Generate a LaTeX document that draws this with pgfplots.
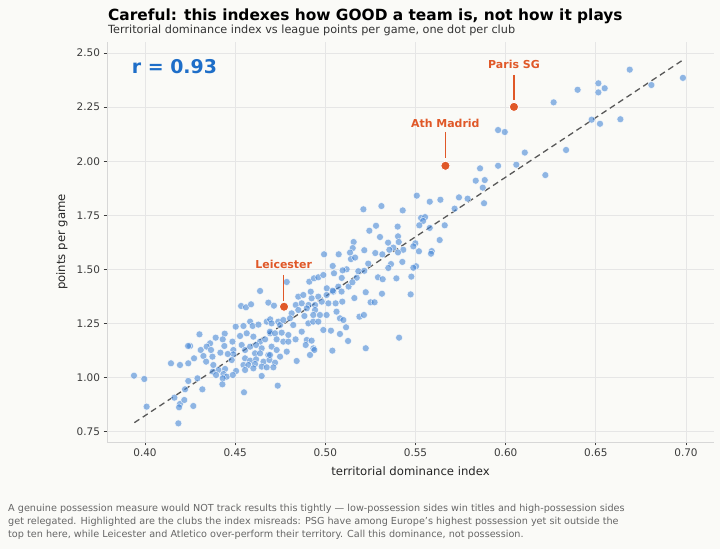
\documentclass[border=0pt]{standalone}
\usepackage{pgfplots}
\pgfplotsset{compat=1.18}
\usepackage{pgfplotstable}
\usepackage{fontspec}
\setmainfont{DejaVu Sans}
\definecolor{bgc}{RGB}{250,250,247}
\definecolor{dotblue}{RGB}{70,135,215}
\definecolor{hl}{RGB}{224,88,40}
\definecolor{rblue}{RGB}{30,110,200}
\definecolor{gridc}{RGB}{230,230,230}
\definecolor{spinec}{RGB}{215,215,215}
\definecolor{tickc}{RGB}{60,60,60}

\pgfplotstableread{
x y
0.6688 2.423
0.6983 2.385
0.6808 2.352
0.6514 2.360
0.6549 2.337
0.6514 2.318
0.6399 2.330
0.6266 2.272
0.6477 2.192
0.6523 2.173
0.6636 2.194
0.5958 2.144
0.5995 2.135
0.6106 2.040
0.6335 2.052
0.5858 1.967
0.5884 1.913
0.5873 1.878
0.5880 1.806
0.5958 1.979
0.6059 1.984
0.6220 1.936
0.5834 1.910
0.5741 1.833
0.5789 1.827
0.5638 1.822
0.5579 1.813
0.5507 1.841
0.5717 1.781
0.5211 1.778
0.5311 1.793
0.5429 1.773
0.5531 1.738
0.5553 1.742
0.5542 1.724
0.5521 1.704
0.5662 1.704
0.5579 1.692
0.5281 1.702
0.5244 1.679
0.5401 1.698
0.5403 1.653
0.5303 1.650
0.5634 1.636
0.5157 1.627
0.5348 1.624
0.5407 1.627
0.5499 1.621
0.5152 1.599
0.5488 1.607
0.5377 1.601
0.5355 1.591
0.5432 1.591
0.5216 1.589
0.5519 1.584
0.5590 1.585
0.5586 1.573
0.5137 1.578
0.5277 1.576
0.5316 1.570
0.5403 1.579
0.5142 1.548
0.5165 1.555
0.5427 1.535
0.5364 1.525
0.5238 1.527
0.5503 1.515
0.5488 1.508
0.5349 1.507
0.5118 1.501
0.5096 1.496
0.5183 1.492
0.5216 1.494
0.5292 1.464
0.5318 1.455
0.5394 1.459
0.5477 1.467
0.5091 1.461
0.5174 1.462
0.5129 1.421
0.5150 1.441
0.5224 1.395
0.5161 1.368
0.5314 1.388
0.5473 1.385
0.4638 1.4007
0.4533 1.3314
0.4560 1.3252
0.4588 1.3391
0.4684 1.3468
0.4503 1.2359
0.4546 1.2390
0.4583 1.2590
0.4597 1.2390
0.4629 1.2452
0.4675 1.2590
0.4694 1.2698
0.4302 1.2005
0.4392 1.1851
0.4442 1.2036
0.4431 1.1774
0.4361 1.1590
0.4342 1.1436
0.4485 1.1667
0.4527 1.1928
0.4564 1.2052
0.4601 1.1898
0.4638 1.1667
0.4666 1.1774
0.4694 1.2052
0.4309 1.1282
0.4366 1.1282
0.4418 1.1159
0.4440 1.1466
0.4490 1.1282
0.4536 1.1513
0.4555 1.1282
0.4583 1.1436
0.4616 1.1513
0.4647 1.1359
0.4684 1.1051
0.4490 1.1082
0.4610 1.1128
0.4638 1.1128
0.4272 1.0897
0.4324 1.1005
0.4374 1.0974
0.4459 1.1097
0.4555 1.0897
0.4583 1.0789
0.4616 1.0851
0.4657 1.0743
0.4690 1.0820
0.4481 1.0820
0.4339 1.0743
0.4379 1.0589
0.4407 1.0358
0.4444 1.0404
0.4546 1.0589
0.4573 1.0589
0.4610 1.0635
0.4647 1.0512
0.4675 1.0481
0.4250 1.1466
0.4376 1.0281
0.4394 1.0127
0.4435 1.0173
0.4453 1.0050
0.4505 1.0312
0.4555 1.0358
0.4601 1.0435
0.4291 0.9973
0.4431 0.9973
0.4487 1.0127
0.4647 1.0081
0.4318 0.9465
0.4429 0.9696
0.4549 0.9326
0.4268 0.8695
0.4715 1.3329
0.4850 1.3745
0.4878 1.3822
0.4924 1.3668
0.4961 1.3745
0.5007 1.3822
0.5044 1.3976
0.4836 1.3360
0.4869 1.3437
0.4907 1.3360
0.4943 1.3360
0.4980 1.3514
0.5017 1.3437
0.5057 1.3437
0.5094 1.3514
0.4850 1.3129
0.4897 1.3206
0.4943 1.3129
0.4970 1.2898
0.5007 1.2898
0.5062 1.3052
0.5081 1.2744
0.4884 1.2852
0.4933 1.2898
0.4813 1.2975
0.4804 1.2744
0.4702 1.2513
0.4739 1.2590
0.4749 1.2436
0.4767 1.2667
0.4822 1.2436
0.4869 1.2128
0.4906 1.2513
0.4933 1.2590
0.4961 1.2590
0.4989 1.2205
0.5031 1.2174
0.5081 1.2021
0.4693 1.2128
0.4721 1.2052
0.4758 1.2082
0.4795 1.1975
0.4730 1.1774
0.4767 1.1667
0.4795 1.1667
0.4835 1.1774
0.4897 1.1744
0.4924 1.1713
0.4891 1.1513
0.4934 1.1359
0.4939 1.1282
0.4915 1.1051
0.5039 1.1251
0.4702 1.1436
0.4730 1.1282
0.4786 1.1205
0.4693 1.1051
0.4749 1.0974
0.4721 1.0697
0.4841 1.0774
0.4712 1.0481
0.4736 0.9634
0.3939 1.0096
0.3996 0.9942
0.4009 0.8664
0.4144 1.0666
0.4194 1.0589
0.4240 1.0666
0.4163 0.9080
0.4194 0.8788
0.4189 0.8634
0.4218 0.8972
0.4185 0.7894
0.4239 1.1467
0.4240 0.9850
0.4222 0.9465
0.4786 1.4423
0.4911 1.4437
0.4937 1.4592
0.4961 1.4640
0.4989 1.4746
0.4993 1.5702
0.5074 1.5702
0.5041 1.5162
0.5048 1.4824
0.5008 1.4132
0.5041 1.4021
0.5072 1.4206
0.5090 1.3980
0.4919 1.3975
0.5251 1.3485
0.5273 1.3485
0.5100 1.2667
0.5115 1.2330
0.5126 1.1697
0.5189 1.2820
0.5214 1.2898
0.5409 1.1850
0.5224 1.1362
}\clubs

\pgfplotstableread{
x y
0.6046 2.251
0.5666 1.979
0.4771 1.328
}\highlights

\begin{document}
\begin{tikzpicture}[x=1bp,y=1bp]
\useasboundingbox (0,0) rectangle (720,549);
\fill[bgc] (0,0) rectangle (720,549);
\begin{axis}[
  at={(107bp,107bp)}, anchor=south west,
  scale only axis, width=607bp, height=400bp,
  xmin=0.37893, xmax=0.71553, ymin=0.7032, ymax=2.5508,
  axis x line*=bottom, axis y line*=left,
  axis line style={draw=spinec, line width=0.8bp, -},
  xtick={0.40,0.45,...,0.71}, ytick={0.75,1.00,...,2.51},
  tick align=outside, major tick length=3.5bp,
  tick style={draw=tickc, line width=0.8bp},
  grid=major, major grid style={draw=gridc, line width=0.8bp},
  /pgf/number format/assume math mode=true,
  xticklabel style={/pgf/number format/fixed, /pgf/number format/precision=2, /pgf/number format/fixed zerofill},
  yticklabel style={/pgf/number format/fixed, /pgf/number format/precision=2, /pgf/number format/fixed zerofill},
  tick label style={font=\fontsize{10.5}{12}\selectfont, text=tickc},
  clip=false,
]
\addplot[only marks, mark=*, mark size=3.5bp,
  mark options={fill=dotblue, fill opacity=0.6, draw=white, draw opacity=0.8, line width=0.5bp}]
  table[x=x,y=y]{\clubs};
\addplot[dashed, dash pattern=on 6bp off 4bp, draw=black!65, line width=1.3bp]
  coordinates {(0.3941,0.7924) (0.6983,2.4677)};
\addplot[only marks, mark=*, mark size=4.6bp,
  mark options={fill=hl, draw=white, line width=0.8bp}]
  table[x=x,y=y]{\highlights};
\end{axis}
% annotations
\draw[hl, line width=1.3bp] (514,474) -- (514,448.5);
\node[hl, font=\bfseries\fontsize{11}{13}\selectfont] at (514,485) {Paris SG};
\draw[hl, line width=1.3bp] (445.3,417) -- (445.3,391);
\node[hl, font=\bfseries\fontsize{11}{13}\selectfont] at (445.3,426) {Ath Madrid};
\draw[hl, line width=1.3bp] (283.7,274) -- (283.7,247.5);
\node[hl, font=\bfseries\fontsize{11}{13}\selectfont] at (283.7,285) {Leicester};
\node[rblue, anchor=west, font=\bfseries\fontsize{19}{22}\selectfont, inner sep=0pt] at (131.7,482.3) {r = 0.93};
% titles
\node[anchor=base west, inner sep=0pt, font=\bfseries\fontsize{15.45}{17}\selectfont] at (108,528.3) {Careful: this indexes how GOOD a team is, not how it plays};
\node[anchor=base west, inner sep=0pt, text=black!80, font=\fontsize{11.3}{13}\selectfont] at (108,515.7) {Territorial dominance index vs league points per game, one dot per club};
% axis labels
\node[text=black!85, font=\fontsize{11.7}{13}\selectfont] at (410.5,78) {territorial dominance index};
\node[text=black!85, rotate=90, font=\fontsize{11.7}{13}\selectfont] at (62,307) {points per game};
% footnote
\begin{scope}[every node/.style={anchor=base west, inner sep=0pt, text=black!60, font=\fontsize{9.7}{11}\selectfont}]
\node at (8,37.5) {A genuine possession measure would NOT track results this tightly — low-possession sides win titles and high-possession sides};
\node at (8,24.3) {get relegated. Highlighted are the clubs the index misreads: PSG have among Europe's highest possession yet sit outside the};
\node at (8,11.5) {top ten here, while Leicester and Atletico over-perform their territory. Call this dominance, not possession.};
\end{scope}
\end{tikzpicture}
\end{document}
